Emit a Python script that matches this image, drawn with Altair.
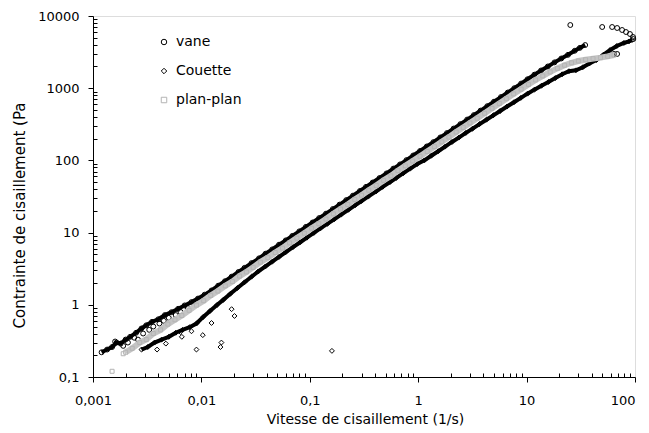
import altair as alt
import pandas as pd

# ---------------- data ----------------
series_names = ["vane", "Couette", "plan-plan"]

# vane : dense band (upper edge of the bundle)
vane_x = [0.0012, 0.00135, 0.0015, 0.00165, 0.0018, 0.0020, 0.0022, 0.0025, 0.0028, 0.0031,
          0.0035, 0.0040, 0.0046, 0.0053, 0.0061, 0.0070, 0.0081, 0.0093, 0.0107, 0.0124,
          0.0143, 0.0165, 0.019, 0.022, 0.025, 0.029, 0.034, 0.039, 0.045, 0.052,
          0.060, 0.069, 0.080, 0.092, 0.106, 0.122, 0.141, 0.163, 0.188, 0.217,
          0.25, 0.29, 0.33, 0.38, 0.44, 0.51, 0.59, 0.68, 0.78, 0.90,
          1.04, 1.2, 1.38, 1.6, 1.84, 2.12, 2.45, 2.83, 3.26, 3.76,
          4.34, 5.0, 5.8, 6.7, 7.7, 8.9, 10.2, 11.8, 13.6, 15.7,
          18.1, 20.9, 24.1, 27.8, 31, 34.7]
vane_y = [0.22, 0.24, 0.26, 0.30, 0.29, 0.33, 0.36, 0.41, 0.47, 0.52,
          0.58, 0.63, 0.72, 0.79, 0.88, 0.98, 1.09, 1.22, 1.38, 1.58,
          1.84, 2.12, 2.45, 2.85, 3.25, 3.78, 4.4, 5.1, 5.85, 6.8,
          7.8, 9.0, 10.4, 12.0, 13.8, 15.9, 18.3, 21.2, 24.4, 28.2,
          32.5, 37.7, 43, 49.4, 57, 66, 77, 88, 101, 117,
          135, 156, 179, 208, 239, 276, 318, 368, 424, 489,
          564, 650, 754, 871, 1000, 1160, 1330, 1540, 1760, 2000,
          2280, 2580, 2900, 3300, 3620, 3960]
# vane : scattered points
vane_sx = [0.0016, 0.0019, 0.0021, 0.0024, 0.0026, 0.0029, 0.0033, 0.0036, 0.0041, 0.0045,
           0.0050, 0.0058, 0.0064, 0.0075, 0.0088,
           25.3, 49.8, 61.5, 68.4, 76, 82.6, 89.9, 95.9, 96.5, 64, 68.4]
vane_sy = [0.31, 0.27, 0.30, 0.35, 0.33, 0.40, 0.45, 0.50, 0.55, 0.60,
           0.66, 0.72, 0.80, 0.90, 1.0,
           7500, 7040, 7040, 6820, 6400, 6000, 5630, 5120, 4800, 2980, 2980]

# Couette : dense band (lower edge of the bundle)
couette_x = [0.0028, 0.0032, 0.0037, 0.0043, 0.0050, 0.0058, 0.0067, 0.0078, 0.0090, 0.0104,
             0.012, 0.014, 0.016, 0.0185, 0.0215, 0.025, 0.029, 0.0335, 0.039, 0.045,
             0.052, 0.060, 0.070, 0.081, 0.094, 0.109, 0.126, 0.146, 0.169, 0.196,
             0.227, 0.263, 0.30, 0.35, 0.41, 0.47, 0.55, 0.63, 0.73, 0.85,
             0.98, 1.14, 1.32, 1.53, 1.77, 2.05, 2.37, 2.75, 3.18, 3.68,
             4.26, 4.93, 5.7, 6.6, 7.65, 8.85, 10.2, 11.8, 13.7, 15.9,
             18.4, 21.3, 24.6, 28.5, 33, 38, 44, 51, 59, 68,
             79, 88, 94]
couette_y = [0.24, 0.26, 0.30, 0.33, 0.36, 0.41, 0.45, 0.49, 0.55, 0.68,
             0.82, 1.0, 1.18, 1.42, 1.71, 2.05, 2.45, 2.9, 3.4, 3.95,
             4.6, 5.35, 6.3, 7.3, 8.5, 9.9, 11.5, 13.3, 15.4, 17.9,
             20.7, 24, 27.4, 32, 37.3, 43, 50.2, 57.5, 66.5, 77.5,
             89, 100, 116, 134, 155, 180, 207, 240, 276, 318,
             366, 421, 484, 557, 640, 735, 840, 955, 1080, 1220,
             1380, 1560, 1720, 1770, 1950, 2200, 2450, 2900, 3380, 3850,
             4230, 4450, 4650]
# Couette : scattered points
couette_sx = [0.0039, 0.0047, 0.0066, 0.0064, 0.0081, 0.0090, 0.0103, 0.0124, 0.015, 0.0153,
              0.019, 0.0202, 0.16]
couette_sy = [0.24, 0.29, 0.36, 0.42, 0.43, 0.24, 0.38, 0.56, 0.26, 0.30,
              0.87, 0.70, 0.23]

# plan-plan : dense band (middle of the bundle)
plan_x = [0.0020, 0.0023, 0.0027, 0.0031, 0.0036, 0.0042, 0.0049, 0.0057, 0.0066, 0.0077,
          0.0090, 0.0105, 0.0122, 0.0142, 0.0166, 0.0193, 0.0225, 0.026, 0.030, 0.035,
          0.041, 0.048, 0.056, 0.065, 0.076, 0.089, 0.104, 0.121, 0.141, 0.165,
          0.192, 0.224, 0.26, 0.30, 0.35, 0.41, 0.48, 0.56, 0.65, 0.76,
          0.89, 1.04, 1.21, 1.41, 1.65, 1.92, 2.24, 2.6, 3.0, 3.5,
          4.1, 4.8, 5.6, 6.5, 7.6, 8.9, 10.4, 12.1, 14.1, 16.5,
          19.2, 22.4, 26, 30, 35, 41, 48, 56, 64]
plan_y = [0.22, 0.25, 0.30, 0.33, 0.40, 0.45, 0.54, 0.62, 0.71, 0.84,
          0.99, 1.14, 1.35, 1.55, 1.83, 2.10, 2.50, 2.85, 3.3, 3.9,
          4.5, 5.3, 6.1, 7.2, 8.4, 9.8, 11.5, 13.3, 15.4, 18.2,
          21.2, 24.5, 28.8, 33, 38.6, 45, 53, 61, 72, 84,
          98, 114, 133, 155, 181, 210, 247, 286, 330, 384,
          450, 527, 615, 715, 835, 970, 1130, 1300, 1480, 1680,
          1880, 2080, 2250, 2380, 2480, 2570, 2650, 2760, 2880]
plan_sx = [0.0015, 0.0019]
plan_sy = [0.12, 0.21]

x_ticks = [0.001, 0.01, 0.1, 1, 10, 100]
y_ticks = [0.1, 1, 10, 100, 1000, 10000]

# ---------------- table ----------------
rows = []


def add(series, kind, xs, ys):
    for a, b in zip(xs, ys, strict=True):
        rows.append({"x": a, "y": b, "series": series, "kind": kind})


add("vane", "band", vane_x, vane_y)
add("vane", "scatter", vane_sx, vane_sy)
add("Couette", "band", couette_x, couette_y)
add("Couette", "scatter", couette_sx, couette_sy)
add("plan-plan", "band", plan_x, plan_y)
add("plan-plan", "scatter", plan_sx, plan_sy)
df = pd.DataFrame(rows)

FONT = "DejaVu Sans"
xs = alt.Scale(type="log", domain=[0.001, 100], nice=False)
ys = alt.Scale(type="log", domain=[0.1, 10000], nice=False)

x_minor = [m * 10.0 ** k for k in range(-3, 2) for m in range(2, 10)]
y_minor = [m * 10.0 ** k for k in range(-1, 4) for m in range(2, 10)]

base = alt.Chart(df)
X0 = alt.X("x:Q", scale=xs, axis=None)
Y0 = alt.Y("y:Q", scale=ys, axis=None)

legend = alt.Legend(title="", orient="none", legendX=64, legendY=19,
                    labelFont=FONT, labelFontSize=14, labelColor="#000",
                    symbolSize=30, symbolStrokeWidth=1, rowPadding=15,
                    labelOffset=5, symbolFillColor="transparent")
shape_enc = alt.Shape("series:N",
                      scale=alt.Scale(domain=series_names, range=["circle", "diamond", "square"]),
                      legend=legend)
stroke_enc = alt.Stroke("series:N",
                        scale=alt.Scale(domain=series_names, range=["#000000", "#000000", "#b4b4b4"]),
                        legend=legend)

vane_line = base.transform_filter("datum.series == 'vane' && datum.kind == 'band'").mark_line(
    color="#000000", strokeWidth=4).encode(x=X0, y=Y0)
couette_line = base.transform_filter("datum.series == 'Couette' && datum.kind == 'band'").mark_line(
    color="#000000", strokeWidth=4).encode(x=X0, y=Y0)
plan_line = base.transform_filter("datum.series == 'plan-plan' && datum.kind == 'band'").mark_line(
    color="#c4c4c4", strokeWidth=6).encode(x=X0, y=Y0)

black_pts = base.transform_filter("datum.series != 'plan-plan'").mark_point(
    filled=False, strokeWidth=1, opacity=1, size=24).encode(
    x=X0, y=Y0, shape=shape_enc, stroke=stroke_enc)
gray_pts = base.transform_filter("datum.series == 'plan-plan'").mark_point(
    filled=False, strokeWidth=1, opacity=1, size=16).encode(
    x=X0, y=Y0, shape=shape_enc, stroke=stroke_enc)

label_expr = "replace(toString(datum.value), '.', ',')"
main_axes = base.mark_point(opacity=0).encode(
    x=alt.X("x:Q", scale=xs, title="Vitesse de cisaillement (1/s)",
            axis=alt.Axis(orient="bottom", values=x_ticks, labelExpr=label_expr, grid=False,
                          tickSize=5, tickColor="#000", domainColor="#000", labelColor="#000",
                          labelFont=FONT, labelFontSize=13, labelPadding=12, labelFlush=False,
                          labelOverlap=False,
                          labelAlign={"condition": {"test": "datum.value >= 100", "value": "right"},
                                      "value": "center"},
                          titleFont=FONT, titleFontSize=14, titleFontWeight="normal", titleColor="#000",
                          titleX=272, titleY=42, titleBaseline="middle")),
    y=alt.Y("y:Q", scale=ys, title="Contrainte de cisaillement (Pa",
            axis=alt.Axis(orient="left", values=y_ticks, labelExpr=label_expr, grid=False,
                          tickSize=5, tickColor="#000", domainColor="#000", labelColor="#000",
                          labelFont=FONT, labelFontSize=13, labelPadding=9, labelFlush=False,
                          labelOverlap=False,
                          titleFont=FONT, titleFontSize=15, titleFontWeight="normal", titleColor="#000",
                          titleX=-74, titleY=199, titleBaseline="middle", titleAlign="center")),
)
minor_axes = base.mark_point(opacity=0).encode(
    x=alt.X("x:Q", scale=xs, title="",
            axis=alt.Axis(orient="bottom", values=x_minor, labels=False, domain=False, grid=False,
                          tickSize=4, offset=-4, tickColor="#000")),
    y=alt.Y("y:Q", scale=ys, title="",
            axis=alt.Axis(orient="left", values=y_minor, labels=False, domain=False, grid=False,
                          tickSize=4, offset=-4, tickColor="#000")),
)

chart = alt.layer(
    vane_line, couette_line, black_pts, plan_line, gray_pts, main_axes, minor_axes
).resolve_axis(x="independent", y="independent").properties(
    width=542, height=361,
    padding={"left": 85, "top": 8, "right": 6, "bottom": 52},
    autosize=alt.AutoSizeParams(type="none"),
).configure_view(stroke="#8c8c8c", strokeWidth=1).configure(background="white")

chart.save("out.html", embed_options={"renderer": "svg", "actions": False})
